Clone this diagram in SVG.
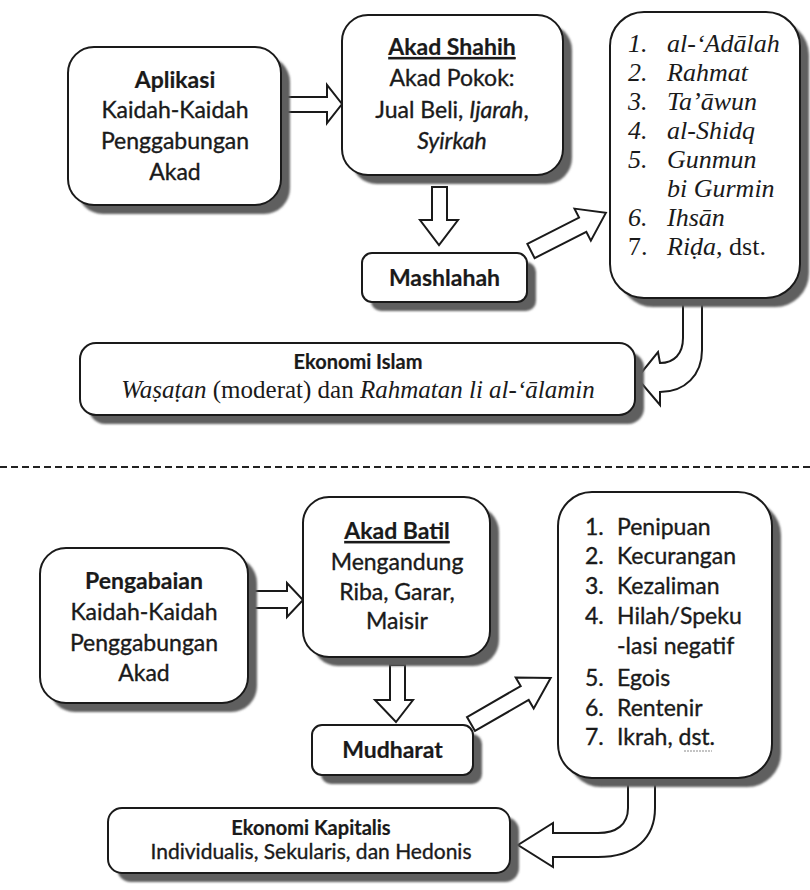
<svg xmlns="http://www.w3.org/2000/svg" width="810" height="890" viewBox="0 0 810 890">
  <defs>
    <filter id="soft" x="-10%" y="-10%" width="120%" height="120%">
      <feGaussianBlur stdDeviation="1.2"/>
    </filter>
  </defs>
  <style>
    .box { fill: #ffffff; stroke: #1a1a1a; stroke-width: 2; }
    .shadow { fill: #5e5e5e; filter: url(#soft); }
    .arrow { fill: #ffffff; stroke: #1a1a1a; stroke-width: 2; stroke-linejoin: miter; }
    .sans { font-family: Lato, "Liberation Sans", sans-serif; font-size: 23px; fill: #1a1a1a; stroke: #1a1a1a; stroke-width: 0.35px; }
    .b { font-weight: bold; stroke-width: 0.2px; }
    .i { font-style: italic; }
    .serif { font-family: "Liberation Serif", "Times New Roman", serif; font-size: 26px; fill: #1a1a1a; }
    .mid { text-anchor: middle; }
    .u { text-decoration: underline; }
    .dash { stroke: #222; stroke-width: 2; stroke-dasharray: 7 4; fill: none; }
  </style>

  <!-- connectors -->
  <g id="connectors">
    <!-- top section -->
    <polygon class="arrow" points="283,97 327,97 327,85 342,104 327,123 327,112 283,112"/>
    <polygon class="arrow" points="432,187 447,187 447,220 458,220 439,245 420,220 432,220"/>
    <polygon class="arrow" transform="translate(531,251) rotate(-27)" points="0,-8 58,-8 58,-18 84,0 58,18 58,8 0,8"/>
    <path class="arrow" d="M683,300 L683,338 C683,354 674,363 660,363 L658,352 L637,378 L660,405 L660,392 C685,392 702,375 702,350 L702,300 Z"/>
    <!-- bottom section -->
    <polygon class="arrow" points="248,591 287,591 287,583 303,600 287,617 287,608 248,608"/>
    <polygon class="arrow" points="390,665 405,665 405,700 413,700 396,722 375,700 390,700"/>
    <polygon class="arrow" transform="translate(471,724) rotate(-30)" points="0,-8 62,-8 62,-18 92,0 62,18 62,8 0,8"/>
    <path class="arrow" d="M628,780 L628,808 C628,825 616,833 598,833 L553,833 L553,823 L518,845 L553,867 L553,857 L598,857 C635,857 655,838 655,808 L655,780 Z"/>
  </g>

  <!-- separator between the two halves -->
  <line class="dash" x1="0" y1="467" x2="810" y2="467"/>

  <g id="aplikasi">
    <rect class="shadow" x="77" y="56" width="213" height="158" rx="26"/>
    <rect class="box" x="68" y="47" width="213" height="158" rx="26"/>
    <text class="sans mid" x="175"><tspan class="b" x="175" y="88">Aplikasi</tspan><tspan x="175" y="118">Kaidah-Kaidah</tspan><tspan x="175" y="149">Penggabungan</tspan><tspan x="175" y="180">Akad</tspan></text>
  </g>

  <g id="akad-shahih">
    <rect class="shadow" x="351" y="24" width="221" height="160" rx="26"/>
    <rect class="box" x="342" y="15" width="221" height="160" rx="26"/>
    <text class="sans mid b u" x="452" y="55">Akad Shahih</text>
    <text class="sans mid" x="452" y="86">Akad Pokok:</text>
    <text class="sans mid" x="452" y="118">Jual Beli, <tspan class="i">Ijarah</tspan>,</text>
    <text class="sans mid i" x="452" y="149">Syirkah</text>
  </g>

  <g id="mashlahah">
    <rect class="shadow" x="371" y="262" width="165" height="49" rx="10"/>
    <rect class="box" x="362" y="253" width="165" height="49" rx="10"/>
    <text class="sans mid b" x="444.5" y="286">Mashlahah</text>
  </g>

  <g id="nilai">
    <rect class="shadow" x="619" y="21" width="190" height="286" rx="34"/>
    <rect class="box" x="610" y="12" width="190" height="286" rx="34"/>
    <g class="serif">
      <text class="i" x="628" y="52">1.</text><text class="i" x="667" y="52">al-‘Adālah</text>
      <text class="i" x="628" y="81">2.</text><text class="i" x="667" y="81">Rahmat</text>
      <text class="i" x="628" y="110">3.</text><text class="i" x="667" y="110">Ta’āwun</text>
      <text class="i" x="628" y="139">4.</text><text class="i" x="667" y="139">al-Shidq</text>
      <text class="i" x="628" y="168">5.</text><text class="i" x="667" y="168">Gunmun</text>
      <text class="i" x="667" y="197">bi Gurmin</text>
      <text class="i" x="628" y="226">6.</text><text class="i" x="667" y="226">Ihsān</text>
      <text x="628" y="255">7.</text><text x="667" y="255"><tspan class="i">Riḍa</tspan>, dst.</text>
    </g>
  </g>

  <g id="ekonomi-islam">
    <rect class="shadow" x="89" y="352" width="555" height="72" rx="16"/>
    <rect class="box" x="80" y="343" width="555" height="72" rx="16"/>
    <text class="sans mid b" x="358" y="369" style="font-size:20px">Ekonomi Islam</text>
    <text class="serif mid" x="358" y="398" style="font-size:25px"><tspan class="i">Waṣaṭan</tspan> (moderat) dan <tspan class="i">Rahmatan li al-‘ālamin</tspan></text>
  </g>

  <g id="pengabaian">
    <rect class="shadow" x="49" y="557" width="208" height="155" rx="26"/>
    <rect class="box" x="40" y="548" width="208" height="155" rx="26"/>
    <text class="sans mid" x="144"><tspan class="b" x="144" y="589">Pengabaian</tspan><tspan x="144" y="620">Kaidah-Kaidah</tspan><tspan x="144" y="651">Penggabungan</tspan><tspan x="144" y="681">Akad</tspan></text>
  </g>

  <g id="akad-batil">
    <rect class="shadow" x="312" y="506" width="187" height="160" rx="26"/>
    <rect class="box" x="303" y="497" width="187" height="160" rx="26"/>
    <text class="sans mid b u" x="397" y="539">Akad Batil</text>
    <text class="sans mid" x="397" y="570">Mengandung</text>
    <text class="sans mid" x="397" y="600">Riba, Garar,</text>
    <text class="sans mid" x="397" y="629">Maisir</text>
  </g>

  <g id="mudharat">
    <rect class="shadow" x="321" y="734" width="161" height="50" rx="10"/>
    <rect class="box" x="312" y="725" width="161" height="50" rx="10"/>
    <text class="sans mid b" x="392.5" y="758">Mudharat</text>
  </g>

  <g id="keburukan">
    <rect class="shadow" x="567" y="501" width="214" height="286" rx="34"/>
    <rect class="box" x="558" y="492" width="214" height="286" rx="34"/>
    <g class="sans">
      <text x="585" y="535">1.</text><text x="617" y="535">Penipuan</text>
      <text x="585" y="564">2.</text><text x="617" y="564">Kecurangan</text>
      <text x="585" y="594">3.</text><text x="617" y="594">Kezaliman</text>
      <text x="585" y="624">4.</text><text x="617" y="624">Hilah/Speku</text>
      <text x="617" y="654">-lasi negatif</text>
      <text x="585" y="686">5.</text><text x="617" y="686">Egois</text>
      <text x="585" y="716">6.</text><text x="617" y="716">Rentenir</text>
      <text x="585" y="745">7.</text><text x="617" y="745">Ikrah, dst.</text>
    </g>
    <line x1="684" y1="751" x2="712" y2="751" stroke="#8a8a8a" stroke-width="1.2" stroke-dasharray="2 1"/>
  </g>

  <g id="ekonomi-kapitalis">
    <rect class="shadow" x="117" y="817" width="402" height="65" rx="14"/>
    <rect class="box" x="108" y="808" width="402" height="65" rx="14"/>
    <text class="sans mid b" x="311" y="835" style="font-size:20px">Ekonomi Kapitalis</text>
    <text class="sans mid" x="311" y="859" style="font-size:21px">Individualis, Sekularis, dan Hedonis</text>
  </g>
</svg>
